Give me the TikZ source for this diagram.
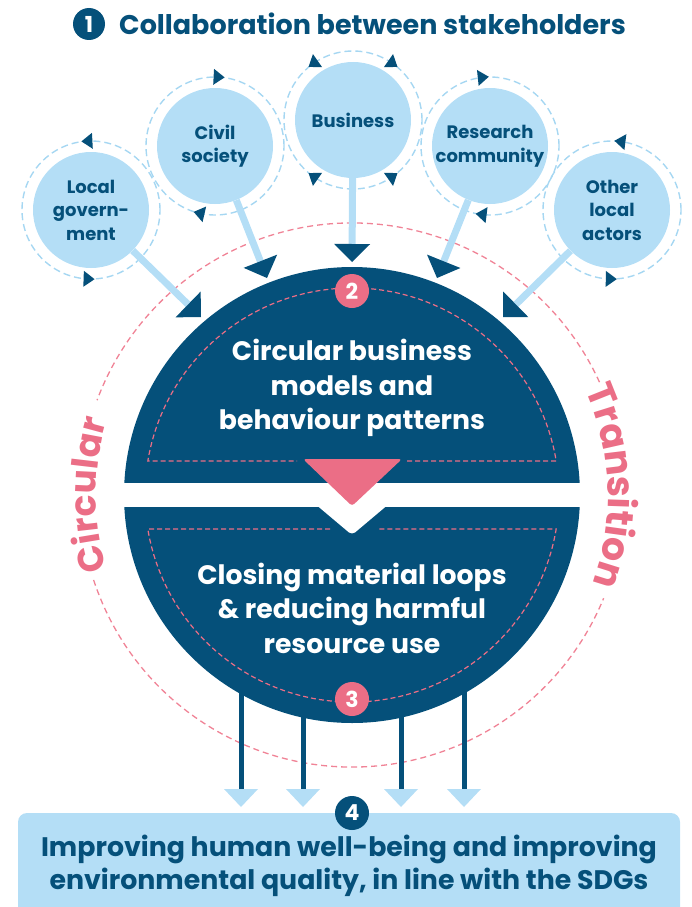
\documentclass[tikz,border=0pt]{standalone}
\usepackage{fontspec}
\setmainfont{Poppins}
\usetikzlibrary{arrows.meta,decorations.text,calc}
\definecolor{dkb}{HTML}{05507A}
\definecolor{ltb}{HTML}{B4DEF6}
\definecolor{rng}{HTML}{A6D7F2}
\definecolor{pnk}{HTML}{EB6E86}
\definecolor{pnkd}{HTML}{F08396}
\newcommand\ringtri[3]{%
  \begin{scope}[shift={($(#1)+(#2:69)$)}, rotate=#2+#3]
    \fill[dkb] (6,0) -- (-5,8) -- (-5,-8) -- cycle;
  \end{scope}}
\begin{document}
\begin{tikzpicture}[x=1pt,y=1pt,
  actor/.style={circle, fill=ltb, minimum size=116pt, inner sep=0pt, align=center, text=dkb, font=\bfseries\fontsize{18}{23.5}\selectfont},
  ring/.style={draw=rng, line width=1.4pt, dash pattern=on 7pt off 4pt},
  feed/.style={draw=ltb, line width=7pt, -{Triangle[width=36pt,length=18pt,line width=0pt,color=dkb]}},
  outarrow/.style={draw=dkb, line width=5pt, -{Triangle[width=34pt,length=18pt,line width=0pt,color=ltb]}},
  badge/.style={circle, minimum size=34pt, inner sep=0pt, text=white, font=\bfseries\fontsize{22}{22}\selectfont},
  idash/.style={draw=pnk, line width=1.2pt, dash pattern=on 5pt off 3pt},
  odash/.style={draw=pnkd, line width=1.3pt, dash pattern=on 6pt off 4pt},
  core/.style={text=white, align=center, font=\bfseries\fontsize{26.7}{34.5}\selectfont},
]
\useasboundingbox (0,0) rectangle (691,-907);
\clip (0,0) rectangle (691,-907);
\coordinate (C) at (352,-495);

% outer dashed circle
\draw[odash] ($(C)+(24.5:272)$) arc[start angle=24.5, end angle=159.6, radius=272pt];
\draw[odash] ($(C)+(198.2:272)$) arc[start angle=198.2, end angle=337.7, radius=272pt];
\path[decorate, decoration={text along path, text align=center,
  text={|\color{pnk}\bfseries\fontsize{36}{36}\selectfont|Circular}}]
  ($(C)+(235:256)$) arc[start angle=235, end angle=125, radius=256pt];
\path[decorate, decoration={text along path, text align=center,
  text={|\color{pnk}\bfseries\fontsize{38}{38}\selectfont|Transition}}]
  ($(C)+(57:256)$) arc[start angle=57, end angle=-53, radius=256pt];

% title
\node[badge, fill=dkb, minimum size=32pt] (b1) at (89,-24) {1};
\node[anchor=west, inner sep=0pt, text=dkb, font=\bfseries\fontsize{27}{27}\selectfont] (title) at (119,-24) {Collaboration between stakeholders};

% stakeholder positions
\coordinate (plg) at (91,-210);
\coordinate (pcs) at (215,-146);
\coordinate (pbu) at (353,-120);
\coordinate (prc) at (490,-146);
\coordinate (pol) at (612,-210);
\foreach \p in {plg,pcs,pbu,prc,pol} {\draw[ring] (\p) circle[radius=69pt];}
\ringtri{plg}{93}{90}
\ringtri{plg}{268}{90}
\ringtri{pcs}{87}{-90}
\ringtri{pcs}{257}{-90}
\ringtri{pbu}{125}{90}
\ringtri{pbu}{55}{-90}
\ringtri{pbu}{235}{-90}
\ringtri{pbu}{305}{90}
\ringtri{prc}{96}{-90}
\ringtri{prc}{263}{-90}
\ringtri{pol}{83}{90}
\ringtri{pol}{269}{90}

\node[actor] (lg) at (plg) {Local\\govern-\\ment};
\node[actor] (cs) at (pcs) {Civil\\society};
\node[actor] (bu) at (pbu) {Business};
\node[actor] (rc) at (prc) {Research\\community};
\node[actor] (ol) at (pol) {Other\\local\\actors};

\coordinate (tlg) at (201,-317);
\coordinate (tcs) at (267,-278);
\coordinate (tbu) at (352,-262);
\coordinate (trc) at (437,-278);
\coordinate (tol) at (503,-317);
\draw[feed] (lg) -- (tlg);
\draw[feed] (cs) -- (tcs);
\draw[feed] (bu) -- (tbu);
\draw[feed] (rc) -- (trc);
\draw[feed] (ol) -- (tol);

% core circle
\begin{scope}\clip (0,0) rectangle (691,-482); \fill[dkb] (C) circle[radius=228pt]; \end{scope}
\begin{scope}\clip (0,-507) rectangle (691,-907); \fill[dkb] (C) circle[radius=228pt]; \end{scope}
\fill[white, rounded corners=4pt] (314,-503) -- (352,-535) -- (390,-503) -- cycle;
\fill[pnk, rounded corners=3pt] (303,-459) -- (402,-459) -- (352,-506) -- cycle;
\draw[idash] (407,-461) -- (556.2,-461) arc[start angle=9.45, end angle=170.55, radius=207pt] -- (297,-461);
\draw[idash] (330,-529) -- (147.8,-529) arc[start angle=189.45, end angle=350.55, radius=207pt] -- (377,-529);
\node[badge, fill=pnk] (b2) at (352,-291) {2};
\node[badge, fill=pnk] (b3) at (352,-699) {3};
\node[core] (upper) at (352,-388) {Circular business\\models and\\behaviour patterns};
\node[core] (lower) at (352,-608) {Closing material loops\\\& reducing harmful\\resource use};

% outputs
\coordinate (s1) at (241,-690); \coordinate (e1) at (241,-807);
\coordinate (s2) at (303,-714); \coordinate (e2) at (303,-807);
\coordinate (s3) at (401,-714); \coordinate (e3) at (401,-807);
\coordinate (s4) at (464,-690); \coordinate (e4) at (464,-807);
\draw[outarrow] (s1) -- (e1);
\draw[outarrow] (s2) -- (e2);
\draw[outarrow] (s3) -- (e3);
\draw[outarrow] (s4) -- (e4);

\fill[ltb, rounded corners=9pt] (18,-813) rectangle (680,-940);
\node[badge, fill=dkb] (b4) at (352,-813) {4};
\node[text=dkb, align=center, font=\bfseries\fontsize{26.8}{33}\selectfont] (goal) at (349,-866) {Improving human well-being and improving\\environmental quality, in line with the SDGs};
\end{tikzpicture}
\end{document}
